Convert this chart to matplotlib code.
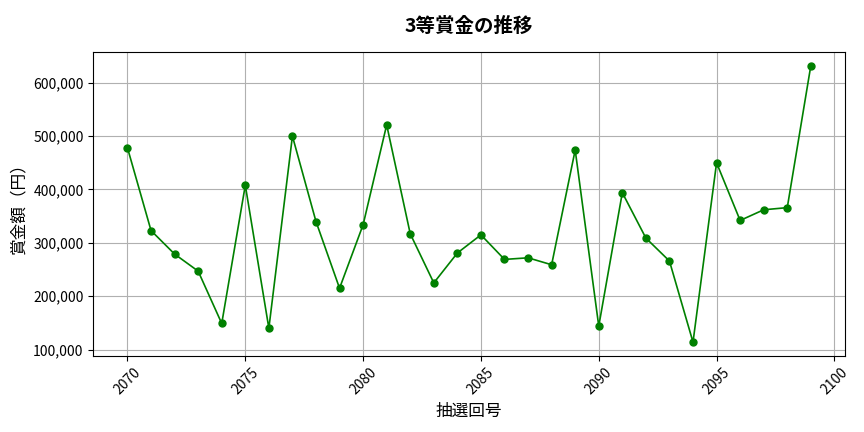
import matplotlib.pyplot as plt
from matplotlib.ticker import FuncFormatter

plt.rcParams['font.family'] = ['Noto Sans CJK JP', 'DejaVu Sans']

draws = list(range(2070, 2100))
prizes = [478000, 323000, 279000, 247000, 149000, 408000, 140000, 500000, 340000, 215000,
          334000, 521000, 317000, 225000, 281000, 315000, 269000, 272000, 259000, 474000,
          144000, 394000, 309000, 266000, 114000, 450000, 342000, 362000, 366000, 632000]

fig, ax = plt.subplots(figsize=(8.64, 4.32), dpi=100)
ax.plot(draws, prizes, marker='o', color='green', markersize=5, linewidth=1.2)
ax.set_title('3等賞金の推移', fontsize=14, fontweight='bold', pad=14)
ax.set_xlabel('抽選回号', fontsize=12)
ax.set_ylabel('賞金額（円）', fontsize=12)
ax.yaxis.set_major_formatter(FuncFormatter(lambda v, p: f'{int(v):,}'))
ax.tick_params(axis='x', rotation=45)
ax.grid(True)
fig.subplots_adjust(left=0.108, right=0.978, top=0.880, bottom=0.176)
fig.savefig('out.png')
